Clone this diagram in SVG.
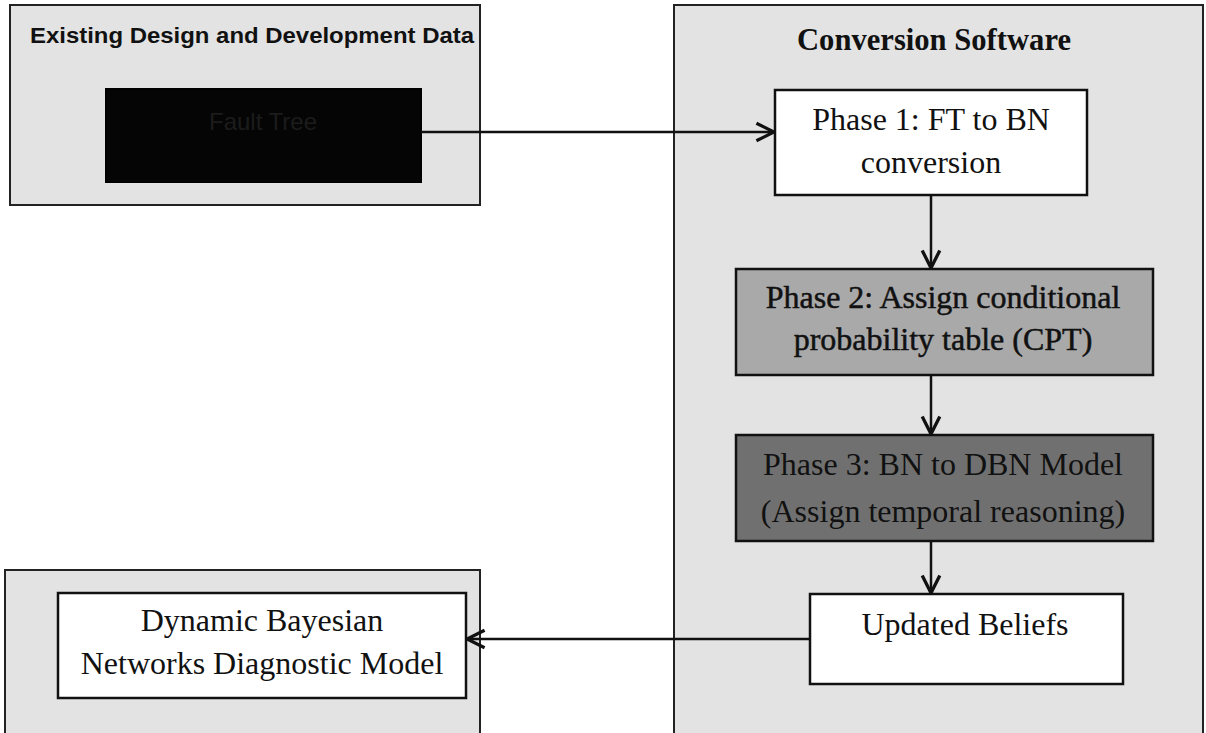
<svg xmlns="http://www.w3.org/2000/svg" width="1206" height="733" viewBox="0 0 1206 733">
<defs>
<style>
.panel{fill:#e3e3e3;stroke:#222;stroke-width:2}
.box{stroke:#111;stroke-width:2.5}
.t{font-family:"Liberation Serif","Times New Roman",serif;font-size:32px;text-anchor:middle;fill:#111}
.conn{stroke:#111;stroke-width:2.5;fill:none}
</style>
<marker id="ah" viewBox="0 0 20 20" refX="18" refY="10" markerWidth="22" markerHeight="22" markerUnits="userSpaceOnUse" orient="auto">
<path d="M2,2 L18,10 L2,18" fill="none" stroke="#111" stroke-width="3"/>
</marker>
</defs>
<rect width="1206" height="733" fill="#fff"/>
<g id="panel-existing">
<rect class="panel" x="10" y="5" width="470" height="200"/>
<text x="30" y="43" font-family="Liberation Sans,Arial,sans-serif" font-weight="bold" font-size="22" fill="#111" textLength="444" lengthAdjust="spacingAndGlyphs">Existing Design and Development Data</text>
</g>
<g id="panel-conversion">
<rect class="panel" x="674" y="5" width="529" height="735"/>
<text x="934" y="50" class="t" font-weight="bold" font-size="30" textLength="274" lengthAdjust="spacingAndGlyphs">Conversion Software</text>
</g>
<g id="panel-output">
<rect class="panel" x="5" y="570" width="475" height="170"/>
</g>
<g id="node-fault-tree">
<rect x="106" y="89" width="315" height="93" fill="#050505" stroke="#000" stroke-width="2"/>
<text x="263" y="130" font-family="Liberation Sans,Arial,sans-serif" font-size="24" text-anchor="middle" fill="#1c1c1c">Fault Tree</text>
</g>
<g id="node-phase1">
<rect class="box" x="775" y="90" width="312" height="105" fill="#fff"/>
<text class="t" x="931" y="130">Phase 1: FT to BN</text>
<text class="t" x="931" y="173">conversion</text>
</g>
<g id="node-phase2">
<rect class="box" x="736" y="269" width="417" height="106" fill="#a9a9a9"/>
<text class="t" x="943" y="308" stroke="#111" stroke-width="0.5">Phase 2: Assign conditional</text>
<text class="t" x="943" y="350" stroke="#111" stroke-width="0.5">probability table (CPT)</text>
</g>
<g id="node-phase3">
<rect class="box" x="736" y="435" width="417" height="106" fill="#707070"/>
<text class="t" x="943" y="475" fill="#2e2e2e">Phase 3: BN to DBN Model</text>
<text class="t" x="943" y="522" fill="#2e2e2e">(Assign temporal reasoning)</text>
</g>
<g id="node-updated">
<rect class="box" x="810" y="594" width="313" height="90" fill="#fff"/>
<text class="t" x="965" y="635">Updated Beliefs</text>
</g>
<g id="node-dbn">
<rect class="box" x="58" y="593" width="408" height="105" fill="#fff"/>
<text class="t" x="262" y="631">Dynamic Bayesian</text>
<text class="t" x="262" y="674">Networks Diagnostic Model</text>
</g>
<g id="connectors">
<path class="conn" d="M421,132 L774,132" marker-end="url(#ah)"/>
<path class="conn" d="M931,195 L931,268" marker-end="url(#ah)"/>
<path class="conn" d="M931,375 L931,434" marker-end="url(#ah)"/>
<path class="conn" d="M931,541 L931,593" marker-end="url(#ah)"/>
<path class="conn" d="M810,639 L467,639" marker-end="url(#ah)"/>
</g>
</svg>
